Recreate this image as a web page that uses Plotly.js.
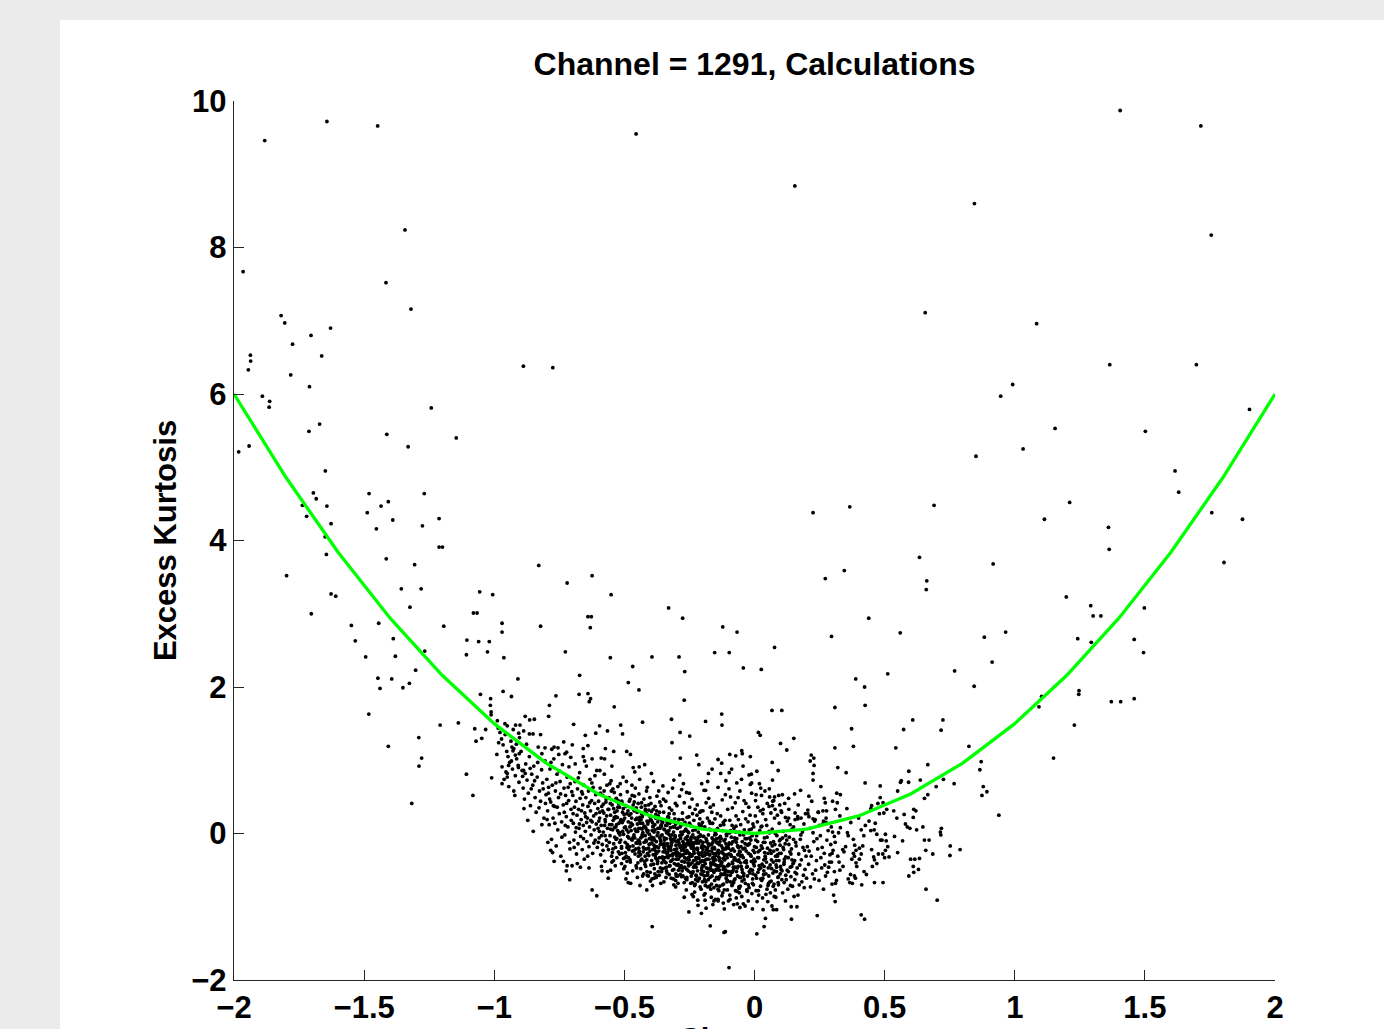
<!DOCTYPE html>
<html>
<head>
<meta charset="utf-8">
<script src="https://cdn.plot.ly/plotly-3.0.1.min.js"></script>
<style>
  html, body { margin:0; padding:0; background:#ebebeb; width:1384px; height:1029px; overflow:hidden; }
  #chart { position:absolute; left:60px; top:20px; width:1324px; height:1009px; background:#ffffff; }
</style>
</head>
<body>
<div id="chart"></div>
<script>
// ---------------- DATA ----------------
const chartTitle = "Channel = 1291, Calculations";
const xAxisLabel = "Skewness";
const yAxisLabel = "Excess Kurtosis";

const xTickValues = [-2, -1.5, -1, -0.5, 0, 0.5, 1, 1.5, 2];
const xTickLabels = ["\u22122", "\u22121.5", "\u22121", "\u22120.5", "0", "0.5", "1", "1.5", "2"];
const yTickValues = [-2, 0, 2, 4, 6, 8, 10];
const yTickLabels = ["\u22122", "0", "2", "4", "6", "8", "10"];

// Green reference curve (skewness, kurtosis)
const curveSkew = [-2, -1.8, -1.6, -1.4, -1.2, -1, -0.8, -0.6, -0.4, -0.2, 0, 0.2, 0.4, 0.6, 0.8, 1, 1.2, 1.4, 1.6, 1.8, 2];
const curveKurt = [6, 4.86, 3.84, 2.94, 2.16, 1.5, 0.96, 0.54, 0.24, 0.06, 0, 0.06, 0.24, 0.54, 0.96, 1.5, 2.16, 2.94, 3.84, 4.86, 6];

// Scattered calculation points [skewness, kurtosis]
const highPoints = [
[-1.882,9.46],[-1.643,9.72],[-1.448,9.66],[-0.455,9.55],[-1.343,8.24],[-1.965,7.67],[-1.416,7.52],[-1.819,7.07],[-1.320,7.16],
[1.405,9.87],[1.715,9.66],[0.155,8.84],[0.845,8.60],[1.755,8.17],[0.656,7.11],
[-1.805,6.97],[-1.629,6.90],[-1.704,6.80],[-1.775,6.68],[-1.937,6.53],[-1.936,6.45],[-1.945,6.33],[-1.663,6.52],[-1.782,6.26],[-1.710,6.10],
[-0.888,6.38],[-0.775,6.36],[-1.891,5.97],[-1.863,5.90],[-1.865,5.82],[-1.242,5.81],[-1.671,5.59],[-1.712,5.49],[-1.413,5.45],[-1.146,5.40],
[-1.982,5.21],[-1.942,5.29],[-1.331,5.28],[-1.649,4.95],[-1.695,4.65],[-1.684,4.57],[-1.737,4.48],[-1.643,4.47],[-1.721,4.33],[-1.627,4.23],
[-1.650,4.05],[-1.481,4.64],[-1.269,4.64],[-1.435,4.47],[-1.407,4.53],[-1.488,4.38],[-1.390,4.28],[-1.212,4.30],[-1.276,4.20],[-1.453,4.16],
[1.084,6.96],[1.365,6.40],[1.698,6.40],[0.992,6.13],[0.946,5.97],[1.902,5.79],[1.155,5.53],[1.502,5.49],[1.032,5.25],[0.851,5.15],
[1.616,4.95],[1.630,4.66],[1.211,4.52],[0.225,4.38],[0.366,4.46],[0.690,4.48],[1.114,4.29],[1.360,4.18],[1.757,4.38],[1.875,4.29]
];

const midPoints = [
[-1.645,3.81],[-1.798,3.52],[-1.415,3.75],[-1.306,3.67],[-1.212,3.91],[-1.199,3.91],[-1.627,3.27],[-1.609,3.24],[-1.357,3.34],[-1.281,3.34],
[-1.324,3.09],[-1.056,3.30],[-1.006,3.26],[-1.080,3.01],[-1.066,3.01],[-1.703,3.00],[-1.549,2.84],[-1.444,2.87],[-1.194,2.83],[-1.534,2.63],
[-1.388,2.66],[-1.105,2.64],[-1.060,2.62],[-1.019,2.62],[-1.107,2.44],[-1.026,2.48],[-1.267,2.49],[-1.494,2.41],[-1.380,2.42],[-1.302,2.23],
[-1.447,2.12],[-1.394,2.11],[-1.439,1.98],[-1.351,1.99],[-1.326,2.05],[-1.053,1.90],[-1.014,1.84],[-1.015,1.75],[-1.012,1.66],[-1.012,1.62],
[-1.482,1.63],[-1.208,1.48],[-1.138,1.51],[-1.075,1.43],[-1.033,1.42],[-1.048,1.30],[-1.070,1.26],[-1.290,1.31],[-1.407,1.19],[-1.279,1.03],
[-1.289,0.92],[-1.317,0.41],[-1.107,0.81],[-1.082,0.52],[-1.010,0.76],
[-0.829,3.66],[-0.624,3.52],[-0.720,3.42],[-0.551,3.26],[-0.330,3.08],[-0.276,2.94],[-0.640,2.96],[-0.627,2.96],[-0.631,2.81],[-0.822,2.83],
[-0.970,2.87],[-0.970,2.75],[-0.122,2.82],[-0.067,2.75],[-0.963,2.40],[-0.727,2.48],[-0.554,2.40],[-0.394,2.41],[-0.290,2.41],[-0.153,2.47],
[-0.097,2.47],[-0.043,2.26],[-0.468,2.28],[-0.268,2.21],[-0.909,2.11],[-0.672,2.16],[-0.485,2.06],[-0.444,1.96],[-0.966,1.94],[-0.934,1.87],
[-0.763,1.88],[-0.674,1.90],[-0.640,1.91],[-0.630,1.84],[-0.635,1.80],[-0.539,1.73],[-0.270,1.82],[-0.788,1.75],[-0.791,1.60],[-0.126,1.63],
[-0.125,1.48],[-0.319,1.56],[-0.430,1.52],[-0.188,1.53],[-0.988,1.54],[-0.881,1.60],[-0.864,1.55],[-0.846,1.56],[-0.959,1.50],[-0.950,1.47],
[-0.918,1.48],[-0.901,1.48],[-0.927,1.42],[-0.906,1.37],[-0.887,1.40],[-0.865,1.36],[-0.851,1.36],[-0.822,1.35],[-0.695,1.49],[-0.595,1.47],
[-0.514,1.48],[-0.565,1.40],[-0.507,1.36],[-0.610,1.37],[-0.650,1.34],[-0.286,1.38],[-0.249,1.33],[-0.317,1.24],[-0.983,1.24],[-0.733,1.25],
[-0.700,1.21],[-0.805,1.17],[-0.779,1.15],[-0.770,1.18],[-0.755,1.17],[-0.640,1.20],[-0.658,1.16],[-0.573,1.16],[-0.541,1.12],[-0.491,1.12],
[-0.477,1.08],[-0.722,1.11],[-0.728,1.09],[-0.706,1.04],[-0.932,1.18],[-0.928,1.13],[-0.919,1.07],[-0.904,1.09],[-0.817,1.09],[-0.222,1.07],
[-0.095,1.08],[-0.072,1.06],[-0.049,1.13],[-0.047,1.09],[-0.140,1.01],[-0.285,1.03],[-0.658,1.05],[-0.589,1.03],[-0.576,1.02],[-0.624,1.02],
[0.634,3.77],[0.917,3.68],[0.345,3.59],[0.272,3.48],[0.662,3.45],[0.660,3.33],[0.439,2.94],[0.560,2.74],[0.296,2.69],[0.883,2.68],
[0.965,2.75],[0.077,2.54],[0.913,2.34],[0.026,2.24],[0.769,2.22],[0.512,2.18],[0.389,2.11],[0.423,2.00],[0.844,2.01],[0.067,1.68],
[0.105,1.68],[0.309,1.72],[0.425,1.75],[0.608,1.55],[0.724,1.55],[0.573,1.42],[0.717,1.41],[0.373,1.43],[0.015,1.38],[0.022,1.34],
[0.151,1.30],[0.100,1.23],[0.124,1.14],[0.309,1.17],[0.380,1.19],[0.543,1.17],[0.824,1.19],[0.218,1.07],[0.228,1.03],
[1.363,3.88],[1.804,3.70],[1.198,3.23],[1.292,3.11],[1.301,2.97],[1.331,2.97],[1.498,3.08],[1.242,2.66],[1.294,2.61],[1.459,2.65],
[1.495,2.47],[1.247,1.95],[1.246,1.90],[1.371,1.80],[1.407,1.80],[1.459,1.84],[1.103,1.87],[1.093,1.73],[1.229,1.48],[1.149,1.03]
];

const rightLowPoints = [
[0.871,0.98],[0.866,0.87],[0.879,0.64],[0.893,0.57],[0.874,0.52],[0.939,0.25],[0.666,0.94],[0.767,0.68],[0.726,0.74],[0.698,0.64],
[0.666,0.53],[0.653,0.48],[0.593,0.85],[0.564,0.72],[0.592,0.70],[0.561,0.70],[0.637,0.73],[0.550,0.58],[0.483,0.65],[0.425,0.69],
[0.352,0.83],[0.320,0.90],[0.229,0.93],[0.225,0.82],[0.225,0.73],[0.214,0.99],[0.091,0.86],[0.068,0.97],[0.069,0.73],[0.255,0.64],
[0.177,0.59],[0.154,0.54],[0.209,0.51],[0.024,0.62],[0.006,0.53],[0.058,0.50],[0.077,0.50],[0.074,0.45],[0.268,0.48],[0.272,0.42],
[0.300,0.44],[0.316,0.55],[0.330,0.53],[0.318,0.42],[0.483,0.49],[0.494,0.42],[0.474,0.41],[0.450,0.38],[0.447,0.34],[0.508,0.33],
[0.497,0.28],[0.535,0.31],[0.069,0.38],[0.013,0.36],[0.033,0.33],[0.102,0.31],[0.355,0.34],[0.311,0.33],[0.245,0.29],[0.263,0.31],
[0.277,0.31],[0.156,0.28],[0.205,0.27],[0.209,0.23],[0.119,0.22],[0.131,0.21],[0.167,0.20],[0.225,0.20],[0.231,0.17],[0.265,0.17],
[0.275,0.15],[0.328,0.24],[0.547,0.21],[0.575,0.26],[0.612,0.33],[0.620,0.31],[0.610,0.22],[0.580,0.13],[0.587,0.09],[0.597,0.07],
[0.623,0.05],[0.647,0.09],[0.718,0.07],[0.714,0.02],[0.716,-0.02],[0.653,-0.09],[0.671,-0.09],[0.658,-0.23],[0.685,-0.28],[0.752,-0.17],
[0.790,-0.22],[0.751,-0.30],[0.600,-0.35],[0.616,-0.35],[0.634,-0.34],[0.610,-0.45],[0.630,-0.49],[0.593,-0.58],[0.612,-0.53],[0.659,-0.76],
[0.702,-0.91],[0.426,0.11],[0.410,0.05],[0.447,0.04],[0.464,0.14],[0.470,-0.01],[0.503,-0.01],[0.484,-0.09],[0.506,-0.10],[0.538,-0.04],
[0.569,-0.10],[0.550,-0.26],[0.512,-0.18],[0.503,-0.23],[0.517,-0.32],[0.493,-0.28],[0.458,-0.32],[0.476,-0.28],[0.461,-0.36],[0.453,-0.45],
[0.461,-0.67],[0.494,-0.67],[0.416,-0.17],[0.403,-0.20],[0.385,-0.16],[0.390,-0.23],[0.380,-0.27],[0.384,-0.31],[0.374,-0.35],[0.403,-0.35],
[0.421,-0.52],[0.393,-0.45],[0.369,-0.56],[0.384,-0.58],[0.388,-0.61],[0.366,-0.67],[0.376,-0.68],[0.412,-0.70],[0.339,-0.22],[0.344,-0.25],
[0.357,0.01],[0.360,-0.03],[0.323,0.01],[0.307,-0.04],[0.298,-0.27],[0.302,-0.23],[0.296,-0.39],[0.325,-0.39],[0.328,-0.50],[0.307,-0.52],
[0.315,-0.64],[0.311,-0.68],[0.304,-0.84],[0.310,-0.93],[0.241,-1.12],[0.410,-1.11],[0.423,-1.17],[0.142,-1.17],[0.141,-1.00],[0.163,-1.00],
[0.037,-1.27],[0.042,-1.16],[0.009,-1.37],[0.085,-1.04],[0.072,-1.04]
];

const leftLowPoints = [
[-0.970,0.68],[-0.950,0.77],[-0.950,0.82],[-0.925,0.58],[-0.907,0.90],[-0.887,0.86],[-0.881,0.82],[-0.945,0.93],[-0.934,0.99],
[-0.783,-0.23],[-0.770,-0.38],[-0.723,-0.51],[-0.710,-0.63],[-0.720,-0.44],[-0.701,-0.44],[-0.669,-0.46],[-0.636,-0.47],[-0.624,-0.77],[-0.606,-0.85],
[-0.586,-0.51],[-0.553,-0.50],[-0.485,-0.67],[-0.414,-0.77],[-0.393,-1.27],[-0.252,-1.07],[-0.204,-1.09],[-0.217,-0.98],[-0.186,-1.02],[-0.170,-1.26],
[-0.112,-1.34],[-0.117,-1.35],[-0.098,-1.83],[-0.116,-1.03],[-0.235,-0.86],[-0.218,-0.91],[-0.303,-0.73],[-0.412,-0.57],[-0.377,-0.58],[-0.386,-0.61],
[-0.489,-0.54],[-0.156,-0.92],[-0.140,-0.90],[-0.066,-0.96],[-0.043,-0.96],[-0.056,-1.01],[-0.008,-1.03],
[-0.396,0.82],[-0.422,0.94],[-0.443,0.91],[-0.466,0.90],[-0.214,0.94],[-0.177,0.82],[-0.163,0.88],[-0.126,0.96],[-0.097,0.83],
[-0.021,0.80],[-0.011,0.69],[-0.287,0.80],[-0.273,0.68],[-0.261,0.56],[-0.203,0.68],[-0.194,0.59]
];

// dense cluster, column by column
const clusterA = [
[-0.985,1.44],[-0.978,1.38],[-0.972,1.29],[-0.966,1.21],[-0.958,1.35],[-0.952,1.12],[-0.947,1.05],[-0.941,0.97],[-0.936,1.26],[-0.930,0.88],
[-0.925,1.16],[-0.919,0.79],[-0.914,1.02],[-0.908,0.93],[-0.903,1.31],[-0.962,0.74],[-0.944,0.64],[-0.921,0.52],[-0.97,0.91],[-0.99,1.08],
[-0.905,0.70],[-0.955,0.84],[-0.915,1.22],
[-0.897,1.12],[-0.893,0.86],[-0.889,0.62],[-0.884,0.47],[-0.879,0.95],[-0.874,0.73],[-0.869,0.55],[-0.865,1.05],[-0.861,0.38],[-0.856,0.81],
[-0.852,0.66],[-0.848,0.92],[-0.843,0.49],[-0.839,0.29],[-0.835,0.77],[-0.831,1.18],[-0.826,0.58],[-0.822,0.44],[-0.818,0.87],[-0.814,0.69],
[-0.809,0.21],[-0.805,0.99],[-0.801,0.53],[-0.886,0.34],[-0.871,0.18],[-0.858,0.61],[-0.845,0.72],[-0.828,0.35],[-0.812,0.61],[-0.803,0.41],
[-0.891,0.78],[-0.876,1.22],[-0.862,0.89],[-0.833,0.97],[-0.817,0.12],[-0.85,0.03],
[-0.798,0.74],[-0.795,0.31],[-0.792,0.55],[-0.789,0.12],[-0.786,0.88],[-0.783,0.43],[-0.780,-0.08],[-0.777,0.66],[-0.774,0.21],[-0.771,1.02],
[-0.768,0.37],[-0.765,0.58],[-0.762,-0.17],[-0.759,0.81],[-0.756,0.05],[-0.753,0.49],[-0.750,0.27],[-0.747,0.71],[-0.744,-0.31],[-0.741,0.16],
[-0.738,0.94],[-0.735,0.39],[-0.732,0.62],[-0.729,-0.02],[-0.726,0.52],[-0.723,0.23],[-0.720,0.77],[-0.717,0.09],[-0.714,0.45],[-0.711,-0.12],
[-0.708,0.68],[-0.705,0.33],[-0.702,0.57],[-0.797,0.19],[-0.791,0.63],[-0.782,0.97],[-0.776,-0.26],[-0.767,0.14],[-0.758,0.36],[-0.749,0.85],
[-0.740,-0.05],[-0.731,0.29],[-0.722,0.41],[-0.713,0.91],[-0.704,0.18],[-0.787,0.47],[-0.763,0.69],[-0.745,0.54],[-0.727,0.11],[-0.709,-0.21],
[-0.794,-0.12],[-0.752,1.08],[-0.734,-0.38],[-0.716,0.63],[-0.773,0.38]
];

const clusterB = [
[-0.698,0.52],[-0.696,0.14],[-0.694,-0.09],[-0.692,0.36],[-0.690,0.71],[-0.688,0.02],[-0.686,0.44],[-0.684,-0.28],[-0.682,0.25],[-0.680,0.61],
[-0.678,-0.14],[-0.676,0.33],[-0.674,0.07],[-0.672,0.83],[-0.670,0.48],[-0.668,-0.04],[-0.666,0.19],[-0.664,0.57],[-0.662,-0.22],[-0.660,0.39],
[-0.658,0.11],[-0.656,0.66],[-0.654,-0.35],[-0.652,0.28],[-0.650,0.03],[-0.648,0.49],[-0.646,0.92],[-0.644,-0.11],[-0.642,0.21],[-0.640,0.37],
[-0.638,0.58],[-0.636,-0.18],[-0.634,0.09],[-0.632,0.74],[-0.630,0.31],[-0.628,-0.02],[-0.626,0.45],[-0.624,0.16],[-0.622,-0.27],[-0.620,0.63],
[-0.618,0.24],[-0.616,0.05],[-0.614,0.41],[-0.612,-0.09],[-0.610,0.53],[-0.608,0.13],[-0.606,0.86],[-0.604,-0.19],[-0.602,0.34],[-0.697,0.27],
[-0.689,0.95],[-0.681,-0.41],[-0.673,0.13],[-0.665,0.31],[-0.657,-0.07],[-0.649,0.23],[-0.641,-0.31],[-0.633,0.42],[-0.625,0.69],[-0.617,-0.13],
[-0.609,0.27],[-0.601,0.07],[-0.693,-0.19],[-0.677,0.76],[-0.661,0.54],[-0.645,0.15],[-0.629,0.18],[-0.613,0.79],[-0.685,0.08],[-0.653,0.99],
[-0.599,0.44],[-0.597,-0.06],[-0.595,0.21],[-0.593,0.62],[-0.591,-0.29],[-0.589,0.11],[-0.587,0.37],[-0.585,-0.15],[-0.583,0.52],[-0.581,0.02],
[-0.579,0.28],[-0.577,0.81],[-0.575,-0.38],[-0.573,0.16],[-0.571,0.43],[-0.569,-0.09],[-0.567,0.66],[-0.565,0.07],[-0.563,0.33],[-0.561,-0.22],
[-0.559,0.49],[-0.557,0.12],[-0.555,-0.03],[-0.553,0.25],[-0.551,0.72],[-0.549,-0.31],[-0.547,0.39],[-0.545,0.05],[-0.543,0.18],[-0.541,-0.14],
[-0.539,0.56],[-0.537,0.29],[-0.535,-0.44],[-0.533,0.09],[-0.531,0.47],[-0.529,-0.07],[-0.527,0.22],[-0.525,0.64],[-0.523,-0.25],[-0.521,0.14],
[-0.519,0.36],[-0.517,-0.02],[-0.515,0.53],[-0.513,0.19],[-0.511,-0.18],[-0.509,0.41],[-0.507,0.03],[-0.505,0.77],[-0.503,-0.34],[-0.501,0.26],
[-0.598,0.17],[-0.588,-0.45],[-0.578,0.58],[-0.568,0.24],[-0.558,-0.12],[-0.548,0.92],[-0.538,0.08],[-0.528,0.31],[-0.518,-0.28],[-0.508,0.15],
[-0.594,0.86],[-0.584,0.31],[-0.574,-0.03],[-0.564,-0.52],[-0.554,0.41],[-0.544,0.61],[-0.534,-0.19],[-0.524,0.45],[-0.514,-0.09],[-0.504,0.34],
[-0.596,0.03],[-0.576,0.11],[-0.556,0.68],[-0.536,0.21],[-0.516,0.68],[-0.562,-0.61],[-0.542,-0.37],[-0.522,0.01],[-0.502,-0.48],[-0.582,-0.23]
];

const clusterC = [
[-0.499,0.21],[-0.497,-0.12],[-0.495,0.38],[-0.493,-0.31],[-0.491,0.05],[-0.489,0.57],[-0.487,-0.04],[-0.485,0.16],[-0.483,-0.22],[-0.481,0.44],
[-0.479,0.09],[-0.477,-0.39],[-0.475,0.27],[-0.473,-0.08],[-0.471,0.66],[-0.469,0.12],[-0.467,-0.17],[-0.465,0.33],[-0.463,-0.02],[-0.461,0.51],
[-0.459,-0.28],[-0.457,0.19],[-0.455,0.03],[-0.453,-0.47],[-0.451,0.29],[-0.449,-0.13],[-0.447,0.41],[-0.445,0.07],[-0.443,-0.24],[-0.441,0.74],
[-0.439,0.14],[-0.437,-0.06],[-0.435,0.36],[-0.433,-0.35],[-0.431,0.23],[-0.429,0.01],[-0.427,-0.19],[-0.425,0.47],[-0.423,0.10],[-0.421,-0.42],
[-0.419,0.31],[-0.417,-0.09],[-0.415,0.58],[-0.413,0.17],[-0.411,-0.27],[-0.409,0.04],[-0.407,0.39],[-0.405,-0.15],[-0.403,0.24],[-0.401,-0.53],
[-0.498,-0.45],[-0.492,0.71],[-0.486,0.31],[-0.480,-0.18],[-0.474,0.04],[-0.468,-0.51],[-0.462,0.43],[-0.456,-0.21],[-0.450,0.13],[-0.444,0.54],
[-0.438,-0.29],[-0.432,0.06],[-0.426,0.27],[-0.420,-0.03],[-0.414,-0.36],[-0.408,0.16],[-0.402,0.49],[-0.496,0.09],[-0.484,-0.33],[-0.472,0.21],
[-0.460,0.84],[-0.448,-0.40],[-0.436,0.19],[-0.424,-0.12],[-0.412,0.63],[-0.404,-0.07],[-0.494,-0.62],[-0.478,0.47],[-0.466,-0.05],[-0.454,0.35],
[-0.442,-0.11],[-0.430,-0.58],[-0.418,0.08],[-0.406,0.32],[-0.490,-0.19],[-0.458,0.62],[-0.434,0.42],[-0.416,-0.21],[-0.476,-0.68],[-0.440,-0.71],
[-0.399,-0.14],[-0.397,0.18],[-0.395,-0.37],[-0.393,0.04],[-0.391,-0.22],[-0.389,0.33],[-0.387,-0.06],[-0.385,-0.48],[-0.383,0.12],[-0.381,-0.29],
[-0.379,0.26],[-0.377,-0.11],[-0.375,0.51],[-0.373,-0.41],[-0.371,0.01],[-0.369,-0.19],[-0.367,0.21],[-0.365,-0.33],[-0.363,0.07],[-0.361,-0.09],
[-0.359,0.38],[-0.357,-0.52],[-0.355,-0.02],[-0.353,0.15],[-0.351,-0.25],[-0.349,0.29],[-0.347,-0.14],[-0.345,0.05],[-0.343,-0.39],[-0.341,0.44],
[-0.339,-0.07],[-0.337,0.11],[-0.335,-0.31],[-0.333,0.23],[-0.331,-0.18],[-0.329,-0.01],[-0.327,0.35],[-0.325,-0.44],[-0.323,0.08],[-0.321,-0.23],
[-0.319,0.17],[-0.317,-0.12],[-0.315,0.62],[-0.313,-0.35],[-0.311,0.02],[-0.309,0.27],[-0.307,-0.27],[-0.305,-0.05],[-0.303,0.13],[-0.301,-0.58],
[-0.398,0.41],[-0.394,-0.62],[-0.390,0.09],[-0.386,-0.16],[-0.382,0.37],[-0.378,-0.34],[-0.374,-0.03],[-0.370,0.24],[-0.366,-0.57],[-0.362,-0.15],
[-0.358,0.10],[-0.354,-0.32],[-0.350,0.47],[-0.346,-0.09],[-0.342,0.19],[-0.338,-0.46],[-0.334,0.03],[-0.330,-0.21],[-0.326,0.14],[-0.322,-0.38],
[-0.318,0.32],[-0.314,-0.08],[-0.310,-0.49],[-0.306,0.20],[-0.302,-0.16],[-0.396,-0.05],[-0.388,0.71],[-0.380,-0.24],[-0.372,0.16],[-0.364,0.43],
[-0.356,-0.40],[-0.348,0.06],[-0.340,-0.26],[-0.332,0.56],[-0.324,-0.03],[-0.316,-0.30],[-0.308,0.09],[-0.392,-0.71],[-0.376,0.31],[-0.360,-0.68],
[-0.344,-0.17],[-0.328,0.27],[-0.312,-0.62],[-0.304,0.41],[-0.384,-0.09],[-0.352,0.65],[-0.336,-0.54],[-0.320,-0.13],[-0.368,0.58],[-0.310,0.73]
];

const clusterD = [
[-0.299,-0.21],[-0.297,0.07],[-0.295,-0.43],[-0.293,-0.09],[-0.291,0.19],[-0.289,-0.32],[-0.287,-0.03],[-0.285,-0.56],[-0.283,0.12],[-0.281,-0.17],
[-0.279,-0.38],[-0.277,0.28],[-0.275,-0.11],[-0.273,-0.47],[-0.271,0.03],[-0.269,-0.24],[-0.267,0.15],[-0.265,-0.61],[-0.263,-0.06],[-0.261,-0.35],
[-0.259,0.22],[-0.257,-0.15],[-0.255,-0.51],[-0.253,0.01],[-0.251,-0.27],[-0.249,0.36],[-0.247,-0.42],[-0.245,-0.08],[-0.243,0.10],[-0.241,-0.31],
[-0.239,-0.67],[-0.237,-0.02],[-0.235,-0.19],[-0.233,0.18],[-0.231,-0.45],[-0.229,-0.12],[-0.227,0.05],[-0.225,-0.36],[-0.223,-0.58],[-0.221,0.25],
[-0.219,-0.22],[-0.217,-0.05],[-0.215,-0.41],[-0.213,0.13],[-0.211,-0.29],[-0.209,-0.73],[-0.207,-0.10],[-0.205,0.31],[-0.203,-0.50],[-0.201,-0.16],
[-0.298,0.38],[-0.294,-0.68],[-0.290,-0.13],[-0.286,0.09],[-0.282,-0.44],[-0.278,-0.01],[-0.274,-0.29],[-0.270,0.42],[-0.266,-0.18],[-0.262,-0.77],
[-0.258,-0.04],[-0.254,-0.33],[-0.250,0.14],[-0.246,-0.53],[-0.242,-0.20],[-0.238,0.27],[-0.234,-0.37],[-0.230,-0.06],[-0.226,-0.63],[-0.222,0.08],
[-0.218,-0.33],[-0.214,-0.13],[-0.210,0.20],[-0.206,-0.55],[-0.202,-0.26],[-0.296,-0.26],[-0.288,0.51],[-0.280,-0.59],[-0.272,-0.14],[-0.264,0.06],
[-0.256,-0.40],[-0.248,-0.11],[-0.240,0.47],[-0.232,-0.27],[-0.224,-0.46],[-0.216,0.02],[-0.208,-0.39],[-0.292,-0.50],[-0.276,0.19],[-0.260,-0.63],
[-0.244,-0.15],[-0.228,0.33],[-0.212,-0.61],[-0.204,0.11],[-0.284,-0.07],[-0.268,-0.46],[-0.252,0.23],[-0.236,-0.52],[-0.220,-0.09],[-0.300,-0.35],
[-0.280,0.60],[-0.260,-0.23],[-0.240,-0.83],[-0.220,0.39],[-0.200,-0.44],[-0.270,-0.87],[-0.250,0.55],[-0.230,-0.71],[-0.210,0.29],
[-0.199,-0.31],[-0.197,-0.04],[-0.195,-0.52],[-0.193,-0.18],[-0.191,0.09],[-0.189,-0.41],[-0.187,-0.66],[-0.185,-0.11],[-0.183,-0.28],[-0.181,0.21],
[-0.179,-0.48],[-0.177,-0.02],[-0.175,-0.35],[-0.173,-0.72],[-0.171,-0.15],[-0.169,0.05],[-0.167,-0.43],[-0.165,-0.24],[-0.163,-0.58],[-0.161,0.14],
[-0.159,-0.08],[-0.157,-0.37],[-0.155,-0.19],[-0.153,-0.64],[-0.151,0.02],[-0.149,-0.30],[-0.147,-0.50],[-0.145,-0.12],[-0.143,0.27],[-0.141,-0.44],
[-0.139,-0.23],[-0.137,-0.78],[-0.135,-0.06],[-0.133,-0.34],[-0.131,0.11],[-0.129,-0.55],[-0.127,-0.17],[-0.125,-0.39],[-0.123,0.04],[-0.121,-0.27],
[-0.119,-0.69],[-0.117,-0.10],[-0.115,-0.46],[-0.113,0.18],[-0.111,-0.21],[-0.109,-0.61],[-0.107,-0.03],[-0.105,-0.33],[-0.103,0.33],[-0.101,-0.52],
[-0.198,0.31],[-0.194,-0.84],[-0.190,-0.26],[-0.186,0.42],[-0.182,-0.57],[-0.178,-0.14],[-0.174,0.17],[-0.170,-0.47],[-0.166,-0.87],[-0.162,-0.20],
[-0.158,0.39],[-0.154,-0.42],[-0.150,-0.09],[-0.146,-0.71],[-0.142,0.07],[-0.138,-0.32],[-0.134,-0.59],[-0.130,0.24],[-0.126,-0.25],[-0.122,-0.81],
[-0.118,0.12],[-0.114,-0.36],[-0.110,-0.14],[-0.106,-0.66],[-0.102,0.01],[-0.196,-0.38],[-0.188,0.59],[-0.180,-0.73],[-0.172,-0.29],[-0.164,0.29],
[-0.156,-0.53],[-0.148,-0.01],[-0.140,-0.92],[-0.132,-0.44],[-0.124,0.46],[-0.116,-0.56],[-0.108,-0.19],[-0.192,-0.63],[-0.176,0.48],[-0.160,-0.34],
[-0.144,-0.61],[-0.128,-0.07],[-0.112,0.53],[-0.104,-0.77],[-0.184,-0.22],[-0.168,-0.76],[-0.152,0.20],[-0.136,-0.15],[-0.120,-0.49],[-0.200,0.15],
[-0.180,0.71],[-0.160,-0.97],[-0.140,0.63],[-0.120,-0.95],[-0.110,0.72],[-0.190,-0.91],[-0.170,0.36],[-0.150,-0.28],[-0.130,0.82]
];

const clusterE = [
[-0.099,-0.42],[-0.097,-0.13],[-0.095,0.18],[-0.093,-0.57],[-0.091,-0.29],[-0.089,-0.05],[-0.087,-0.71],[-0.085,0.35],[-0.083,-0.21],[-0.081,-0.46],
[-0.079,0.07],[-0.077,-0.63],[-0.075,-0.34],[-0.073,-0.09],[-0.071,0.24],[-0.069,-0.52],[-0.067,-0.79],[-0.065,-0.17],[-0.063,0.49],[-0.061,-0.38],
[-0.059,0.02],[-0.057,-0.60],[-0.055,-0.25],[-0.053,0.12],[-0.051,-0.45],[-0.049,-0.86],[-0.047,-0.11],[-0.045,0.30],[-0.043,-0.33],[-0.041,-0.55],
[-0.039,0.05],[-0.037,-0.20],[-0.035,-0.68],[-0.033,0.41],[-0.031,-0.40],[-0.029,-0.07],[-0.027,-0.58],[-0.025,0.16],[-0.023,-0.27],[-0.021,-0.74],
[-0.019,-0.14],[-0.017,0.25],[-0.015,-0.49],[-0.013,-0.31],[-0.011,0.55],[-0.009,-0.03],[-0.007,-0.62],[-0.005,-0.23],[-0.003,0.09],[-0.001,-0.44],
[-0.098,0.61],[-0.094,-0.90],[-0.090,-0.23],[-0.086,0.11],[-0.082,-0.66],[-0.078,-0.36],[-0.074,0.42],[-0.070,-0.12],[-0.066,-0.47],[-0.062,0.19],
[-0.058,-0.81],[-0.054,-0.31],[-0.050,0.74],[-0.046,-0.53],[-0.042,-0.02],[-0.038,-0.39],[-0.034,0.20],[-0.030,-0.77],[-0.026,-0.16],[-0.022,0.36],
[-0.018,-0.54],[-0.014,-0.09],[-0.010,-0.82],[-0.006,0.13],[-0.002,-0.35],[-0.096,-0.52],[-0.088,0.88],[-0.080,-0.97],[-0.072,0.02],[-0.064,-0.29],
[-0.056,0.58],[-0.048,-0.65],[-0.040,0.45],[-0.032,-0.24],[-0.024,-0.92],[-0.016,0.67],[-0.008,-0.50],[-0.092,0.50],[-0.076,-0.06],[-0.060,-0.73],
[-0.044,0.92],[-0.028,-0.45],[-0.012,0.81],[-0.004,-0.70],[-0.084,-0.41],[-0.068,0.69],[-0.052,-0.18],[-0.036,-0.99],[-0.020,0.05],[-0.016,1.05],
[0.002,-0.38],[0.005,-0.09],[0.008,-0.61],[0.011,0.16],[0.014,-0.25],[0.017,-0.49],[0.020,0.04],[0.023,-0.72],[0.026,-0.17],[0.029,-0.42],
[0.032,0.27],[0.035,-0.56],[0.038,-0.06],[0.041,-0.31],[0.044,-0.83],[0.047,0.11],[0.050,-0.20],[0.053,-0.47],[0.056,0.37],[0.059,-0.66],
[0.062,-0.13],[0.065,-0.36],[0.068,0.06],[0.071,-0.54],[0.074,-0.24],[0.077,0.21],[0.080,-0.77],[0.083,-0.43],[0.086,-0.03],[0.089,-0.29],
[0.092,-0.59],[0.095,0.14],[0.098,-0.16],[0.004,0.45],[0.010,-0.93],[0.016,-0.33],[0.022,0.31],[0.028,-0.64],[0.034,-0.12],[0.040,0.58],
[0.046,-0.39],[0.052,-0.71],[0.058,0.01],[0.064,-0.27],[0.070,0.44],[0.076,-0.51],[0.082,-0.87],[0.088,0.25],[0.094,-0.37],[0.100,-0.08],
[0.007,-0.19],[0.019,0.68],[0.031,-0.88],[0.043,0.19],[0.055,-0.58],[0.067,-0.99],[0.079,0.33],[0.091,-0.67],[0.013,-0.53],[0.025,0.09],
[0.037,-0.45],[0.049,0.41],[0.061,-0.81],[0.073,-0.11],[0.085,-0.46],[0.097,0.39],[0.003,0.24],[0.015,-0.78],[0.027,0.52],[0.039,-0.26],
[0.051,-0.93],[0.063,0.28],[0.075,-0.69],[0.087,-0.22],[0.099,-0.55],[0.009,0.85],[0.033,-1.04],[0.057,0.61],[0.081,-0.31],[0.093,0.52]
];

const clusterF = [
[0.102,-0.27],[0.106,-0.51],[0.110,0.03],[0.114,-0.39],[0.118,-0.14],[0.122,-0.63],[0.126,0.17],[0.130,-0.33],[0.134,-0.05],[0.138,-0.46],
[0.142,-0.21],[0.146,-0.72],[0.150,0.09],[0.154,-0.37],[0.158,-0.12],[0.162,-0.55],[0.166,0.23],[0.170,-0.28],[0.174,-0.43],[0.178,-0.02],
[0.182,-0.66],[0.186,-0.19],[0.190,0.13],[0.194,-0.49],[0.198,-0.31],[0.104,0.29],[0.108,-0.81],[0.112,-0.22],[0.116,0.41],[0.120,-0.57],
[0.124,-0.09],[0.128,-0.76],[0.132,0.33],[0.136,-0.25],[0.140,-0.59],[0.144,0.06],[0.148,-0.41],[0.152,-0.86],[0.156,0.19],[0.160,-0.17],
[0.164,-0.47],[0.168,0.39],[0.172,-0.70],[0.176,-0.08],[0.180,-0.36],[0.184,0.02],[0.188,-0.57],[0.192,-0.23],[0.196,0.27],[0.200,-0.61],
[0.107,0.53],[0.119,-0.92],[0.131,0.48],[0.143,-0.45],[0.155,-0.63],[0.167,-0.84],[0.179,0.21],[0.191,-0.74],[0.113,-0.42],[0.137,0.12],
[0.203,-0.18],[0.208,-0.42],[0.213,0.07],[0.218,-0.31],[0.223,-0.55],[0.228,-0.11],[0.233,0.19],[0.238,-0.37],[0.243,-0.21],[0.248,-0.64],
[0.253,-0.03],[0.258,-0.47],[0.263,0.13],[0.268,-0.27],[0.273,-0.58],[0.278,-0.09],[0.283,0.04],[0.288,-0.39],[0.293,-0.15],[0.298,-0.69],
[0.205,0.32],[0.215,-0.73],[0.225,0.01],[0.235,-0.50],[0.245,0.29],[0.255,-0.33],[0.265,-0.76],[0.275,0.21],[0.285,-0.46],[0.295,0.09],
[0.210,-0.24],[0.230,-0.62],[0.250,0.11],[0.270,-0.43],[0.290,-0.29],[0.220,0.44],[0.240,-0.07],[0.260,-0.19],[0.280,-0.53],[0.300,0.02],
[0.31,-0.12],[0.32,-0.31],[0.33,0.08],[0.34,-0.45],[0.35,-0.18],[0.36,-0.62],[0.37,0.15],[0.38,-0.08],[0.39,-0.40],[0.40,0.21],
[0.41,-0.28],[0.42,-0.03],[0.43,-0.56],[0.44,0.17],[0.45,-0.22],[0.46,0.05],[0.47,-0.41],[0.48,0.27],[0.49,-0.09],[0.50,-0.33]
];

// extra points of the darkest core of the cloud
const clusterCore = [
[-0.548,0.12],[-0.544,-0.21],[-0.541,0.34],[-0.537,-0.05],[-0.533,0.23],[-0.529,-0.33],[-0.526,0.04],[-0.522,0.41],[-0.518,-0.12],[-0.515,0.17],
[-0.511,-0.41],[-0.507,0.29],[-0.503,-0.01],[-0.500,0.08],[-0.496,-0.26],[-0.492,0.37],[-0.489,-0.15],[-0.485,0.02],[-0.481,0.25],[-0.478,-0.36],
[-0.474,0.14],[-0.470,-0.09],[-0.466,0.39],[-0.463,-0.23],[-0.459,0.06],[-0.455,-0.44],[-0.452,0.21],[-0.548,-0.39],[-0.531,0.48],[-0.509,-0.27],
[-0.449,0.03],[-0.446,-0.31],[-0.443,0.18],[-0.440,-0.14],[-0.437,-0.48],[-0.434,0.27],[-0.431,-0.04],[-0.428,-0.25],[-0.425,0.09],[-0.422,-0.38],
[-0.419,0.33],[-0.416,-0.11],[-0.413,-0.52],[-0.410,0.13],[-0.407,-0.20],[-0.404,-0.01],[-0.401,0.24],[-0.398,-0.43],[-0.395,-0.08],[-0.392,0.15],
[-0.389,-0.29],[-0.386,0.02],[-0.383,-0.55],[-0.380,0.21],[-0.377,-0.18],[-0.374,-0.36],[-0.371,0.07],[-0.368,-0.24],[-0.365,0.29],[-0.362,-0.47],
[-0.359,-0.03],[-0.356,0.17],[-0.353,-0.15],[-0.450,-0.60],[-0.420,0.38],[-0.400,-0.65],[-0.380,-0.33],[-0.360,0.10],[-0.445,-0.20],[-0.415,0.05],
[-0.349,-0.37],[-0.347,-0.06],[-0.344,-0.22],[-0.341,0.11],[-0.338,-0.51],[-0.335,-0.14],[-0.332,-0.33],[-0.329,0.04],[-0.326,-0.44],[-0.323,-0.19],
[-0.320,-0.61],[-0.317,-0.02],[-0.314,-0.28],[-0.311,0.16],[-0.308,-0.41],[-0.305,-0.10],[-0.302,-0.55],[-0.299,-0.25],[-0.296,0.07],[-0.293,-0.35],
[-0.290,-0.16],[-0.287,-0.47],[-0.284,-0.04],[-0.281,-0.30],[-0.278,0.12],[-0.275,-0.58],[-0.272,-0.20],[-0.269,-0.39],[-0.266,-0.07],[-0.263,-0.27],
[-0.260,-0.49],[-0.257,0.03],[-0.254,-0.13],[-0.251,-0.36],[-0.348,-0.66],[-0.330,0.22],[-0.310,-0.70],[-0.290,0.19],[-0.270,-0.67],[-0.340,-0.40],
[-0.320,-0.09],[-0.300,-0.43],[-0.280,-0.23],[-0.260,-0.60],[-0.336,-0.27],
[-0.249,-0.42],[-0.246,-0.17],[-0.243,-0.58],[-0.240,-0.29],[-0.237,0.04],[-0.234,-0.46],[-0.231,-0.21],[-0.228,-0.69],[-0.225,-0.33],[-0.222,-0.09],
[-0.219,-0.51],[-0.216,-0.26],[-0.213,-0.62],[-0.210,-0.04],[-0.207,-0.38],[-0.204,-0.19],[-0.201,-0.56],[-0.198,-0.12],[-0.195,-0.44],[-0.192,-0.30],
[-0.189,-0.71],[-0.186,-0.07],[-0.183,-0.35],[-0.180,-0.53],[-0.177,-0.24],[-0.174,0.06],[-0.171,-0.60],[-0.168,-0.40],[-0.165,-0.15],[-0.162,-0.50],
[-0.159,-0.27],[-0.156,-0.74],[-0.153,-0.02],[-0.248,0.12],[-0.230,-0.80],[-0.210,0.10],[-0.190,-0.82],[-0.170,0.14],[-0.150,-0.43],[-0.240,-0.12],
[-0.220,-0.40],[-0.200,-0.66],[-0.180,-0.19],[-0.160,-0.33],[-0.205,-0.28],
[-0.149,-0.36],[-0.146,-0.60],[-0.143,-0.13],[-0.140,-0.47],[-0.137,-0.27],[-0.134,-0.72],[-0.131,-0.04],[-0.128,-0.41],[-0.125,-0.56],[-0.122,-0.20],
[-0.119,-0.34],[-0.116,-0.77],[-0.113,-0.08],[-0.110,-0.50],[-0.107,-0.29],[-0.104,-0.64],[-0.101,-0.16],[-0.098,-0.43],[-0.095,-0.84],[-0.092,0.04],
[-0.089,-0.31],[-0.086,-0.53],[-0.083,-0.11],[-0.080,-0.67],[-0.077,-0.24],[-0.074,-0.46],[-0.071,0.10],[-0.068,-0.37],[-0.065,-0.58],[-0.062,-0.19],
[-0.059,-0.75],[-0.056,-0.02],[-0.053,-0.40],[-0.150,-0.90],[-0.120,0.15],[-0.100,-0.92],[-0.085,-0.70],[-0.070,-0.88],[-0.135,-0.50],[-0.060,-0.28],
[-0.048,-0.49],[-0.044,-0.21],[-0.040,-0.63],[-0.036,-0.07],[-0.032,-0.37],[-0.028,-0.79],[-0.024,-0.15],[-0.020,-0.52],[-0.016,-0.29],[-0.012,0.06],
[-0.008,-0.68],[-0.004,-0.41],[0.000,-0.18],[0.004,-0.57],[0.008,-0.03],[0.012,-0.33],[0.016,-0.84],[0.020,-0.23],[0.024,-0.47],[0.028,0.10],
[0.032,-0.61],[0.036,-0.36],[0.040,-0.12],[0.044,-0.55],[0.048,-0.76],[0.052,-0.27],[0.056,0.03],[0.060,-0.43],[0.064,-0.65],[0.068,-0.17],
[0.072,-0.39],[0.076,-0.86],[0.080,0.00],[0.084,-0.52],[0.088,-0.31],[0.092,-0.70],[0.096,-0.10],[0.100,-0.45],[0.105,-0.63],[0.110,-0.19],
[0.115,-0.35],[0.120,-0.03],[0.130,-0.52],[0.140,-0.28],[0.150,-0.40]
];

const clusterCore2 = [
[-0.447,-0.09],[-0.441,0.22],[-0.436,-0.37],[-0.430,0.14],[-0.424,-0.21],[-0.418,-0.45],[-0.412,0.02],[-0.406,-0.30],[-0.400,0.19],[-0.394,-0.13],
[-0.388,-0.42],[-0.382,0.05],[-0.376,-0.27],[-0.370,-0.52],[-0.364,-0.06],[-0.358,0.12],[-0.352,-0.34],[-0.438,0.07],[-0.426,-0.55],[-0.414,0.27],
[-0.402,-0.24],[-0.390,0.10],[-0.378,-0.60],[-0.366,0.20],[-0.354,-0.48],[-0.444,-0.26],[-0.432,-0.02],[-0.420,-0.31],[-0.408,-0.58],[-0.396,0.30],
[-0.384,-0.20],[-0.372,-0.38],[-0.360,-0.11],
[-0.348,-0.19],[-0.343,-0.47],[-0.338,0.01],[-0.333,-0.25],[-0.328,-0.56],[-0.323,-0.07],[-0.318,-0.37],[-0.313,0.09],[-0.308,-0.22],[-0.303,-0.64],
[-0.298,-0.11],[-0.293,-0.42],[-0.288,-0.28],[-0.283,0.02],[-0.278,-0.51],[-0.273,-0.17],[-0.268,-0.33],[-0.263,-0.62],[-0.258,-0.09],[-0.253,-0.44],
[-0.345,-0.33],[-0.335,0.15],[-0.325,-0.30],[-0.315,-0.50],[-0.305,-0.03],[-0.295,-0.58],[-0.285,-0.19],[-0.275,-0.38],[-0.265,0.05],[-0.255,-0.26],
[-0.340,-0.60],[-0.320,-0.16],[-0.300,-0.30],[-0.280,-0.46],[-0.260,-0.14],
[-0.248,-0.31],[-0.243,-0.05],[-0.238,-0.54],[-0.233,-0.24],[-0.228,-0.43],[-0.223,-0.13],[-0.218,-0.65],[-0.213,-0.34],[-0.208,-0.02],[-0.203,-0.47],
[-0.198,-0.22],[-0.193,-0.58],[-0.188,-0.36],[-0.183,-0.10],[-0.178,-0.63],[-0.173,-0.29],[-0.168,-0.50],[-0.163,-0.06],[-0.158,-0.41],[-0.153,-0.21],
[-0.245,-0.68],[-0.235,-0.15],[-0.225,-0.57],[-0.215,-0.27],[-0.205,-0.76],[-0.195,-0.04],[-0.185,-0.47],[-0.175,-0.16],[-0.165,-0.69],[-0.155,-0.32],
[-0.240,-0.40],[-0.220,-0.20],[-0.200,-0.37],[-0.180,-0.56],[-0.160,-0.12],
[-0.148,-0.49],[-0.143,-0.26],[-0.138,-0.62],[-0.133,-0.11],[-0.128,-0.39],[-0.123,-0.70],[-0.118,-0.22],[-0.113,-0.53],[-0.108,-0.01],[-0.103,-0.44],
[-0.098,-0.28],[-0.093,-0.66],[-0.088,-0.14],[-0.083,-0.51],[-0.078,-0.33],[-0.073,-0.78],[-0.068,-0.07],[-0.063,-0.45],[-0.058,-0.24],[-0.053,-0.60],
[-0.145,-0.07],[-0.135,-0.37],[-0.125,-0.85],[-0.115,-0.30],[-0.105,-0.57],[-0.095,0.01],[-0.085,-0.39],[-0.075,-0.62],[-0.065,-0.17],[-0.055,-0.72],
[-0.140,-0.76],[-0.120,-0.45],[-0.100,-0.20],[-0.080,-0.48],[-0.060,-0.36],
[-0.048,-0.30],[-0.042,-0.58],[-0.036,-0.14],[-0.030,-0.46],[-0.024,-0.70],[-0.018,-0.06],[-0.012,-0.38],[-0.006,-0.55],[0.000,-0.26],[0.006,-0.78],
[0.012,-0.11],[0.018,-0.44],[0.024,-0.62],[0.030,-0.20],[0.036,-0.51],[0.042,-0.34],[0.048,-0.05],[0.054,-0.68],[0.060,-0.23],[0.066,-0.48],
[0.072,-0.72],[0.078,-0.15],[0.084,-0.37],[0.090,-0.60],[0.096,-0.27],[0.102,-0.49],[0.108,-0.06],[0.114,-0.67],[0.120,-0.32],[0.126,-0.50],
[0.132,-0.15],[0.138,-0.71],[0.144,-0.36],[0.150,-0.08],[0.156,-0.53],
[-0.595,0.29],[-0.588,-0.03],[-0.581,0.40],[-0.574,0.19],[-0.567,-0.17],[-0.560,0.33],[-0.553,0.06],[-0.546,-0.26],[-0.539,0.22],[-0.532,-0.08],
[-0.525,0.36],[-0.518,0.01],[-0.511,-0.20],[-0.504,0.18],[-0.497,-0.33],[-0.490,0.27],[-0.483,-0.06],[-0.476,0.10],[-0.469,-0.24],[-0.462,0.31],
[-0.455,-0.13],[-0.592,0.55],[-0.570,0.47],[-0.550,0.58],[-0.530,0.12],[-0.510,0.44],[-0.490,-0.38],[-0.470,0.52],[-0.460,-0.06],[-0.600,-0.12]
];

// ---------------- BUILD ----------------
const allPoints = [].concat(highPoints, midPoints, rightLowPoints, leftLowPoints,
                            clusterA, clusterB, clusterC, clusterD, clusterE, clusterF, clusterCore, clusterCore2);
const ptSkew = allPoints.map(p => p[0]);
const ptKurt = allPoints.map(p => p[1]);

const fontFam = '"Liberation Sans", Arial, Helvetica, sans-serif';
const boldFont = { family: fontFam, size: 31, color: '#000', weight: 'bold' };

const traces = [
  {
    type: 'scatter', mode: 'markers',
    x: ptSkew, y: ptKurt,
    marker: { color: '#000000', size: 3.8, line: { width: 0 } },
    hoverinfo: 'skip'
  },
  {
    type: 'scatter', mode: 'lines',
    x: curveSkew, y: curveKurt,
    line: { color: '#00ff00', width: 3.3 },
    hoverinfo: 'skip'
  }
];

const axisCommon = {
  showgrid: false, zeroline: false,
  showline: true, linecolor: '#262626', linewidth: 1.2,
  ticks: 'inside', ticklen: 10, tickwidth: 1, tickcolor: '#262626',
  tickfont: boldFont,
  mirror: false, fixedrange: true
};

const layout = {
  width: 1324, height: 1009,
  margin: { l: 174, r: 109, t: 81, b: 49 },
  paper_bgcolor: '#ffffff', plot_bgcolor: '#ffffff',
  showlegend: false,
  font: { family: fontFam, color: '#000' },
  title: {
    text: chartTitle,
    font: { family: fontFam, size: 32, color: '#000', weight: 'bold' },
    x: 0.5, xref: 'paper', xanchor: 'center',
    y: 1 - 44 / 1009, yref: 'container', yanchor: 'middle'
  },
  xaxis: Object.assign({}, axisCommon, {
    range: [-2, 2], tickmode: 'array', tickvals: xTickValues, ticktext: xTickLabels,
    automargin: false
  }),
  yaxis: Object.assign({}, axisCommon, {
    range: [-2, 10], tickmode: 'array', tickvals: yTickValues, ticktext: yTickLabels,
    automargin: true,
    title: { text: yAxisLabel, font: boldFont, standoff: 5 }
  }),
  annotations: [{
    text: xAxisLabel, font: boldFont,
    xref: 'paper', yref: 'paper', x: 0.5, y: -0.046,
    xanchor: 'center', yanchor: 'top', showarrow: false
  }]
};

Plotly.newPlot('chart', traces, layout, { staticPlot: true, displayModeBar: false });
</script>
</body>
</html>
